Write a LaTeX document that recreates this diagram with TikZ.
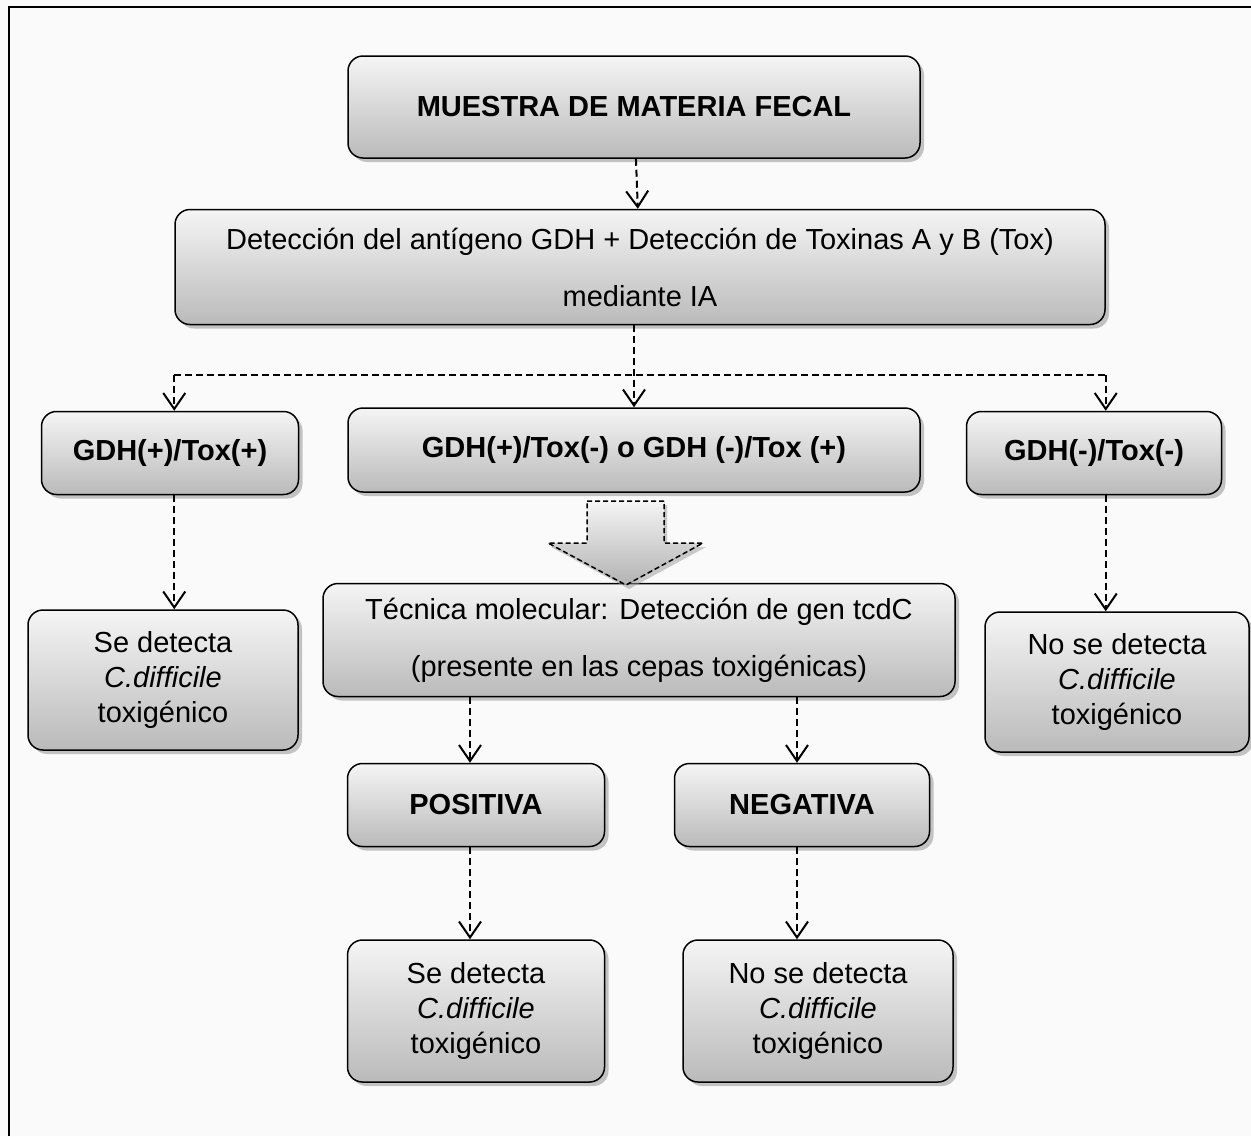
\documentclass[tikz,border=0pt]{standalone}
\usepackage{fontspec}
\setmainfont{Liberation Sans}
\usetikzlibrary{arrows.meta,shapes,shadows}
\tikzstyle{box}=[draw,line width=1.5pt,rounded corners=15pt,top color=black!4,bottom color=black!27,drop shadow={shadow xshift=4pt,shadow yshift=-4pt,fill=black!45},align=center,inner sep=0pt,font=\fontsize{29pt}{35pt}\selectfont]
\tikzstyle{bold box}=[box,font=\fontsize{29pt}{35pt}\selectfont\bfseries]
\tikzstyle{wide box}=[box,font=\fontsize{29pt}{57pt}\selectfont]
\tikzstyle{edge}=[draw,line width=2pt,dash pattern=on 7pt off 4pt,-{Straight Barb[length=16pt,width=22pt]}]
\tikzstyle{line}=[draw,line width=2pt,dash pattern=on 7pt off 4pt]

\begin{document}
\begin{tikzpicture}[x=1pt,y=-1pt]
    \useasboundingbox[fill=black!2] (0,0) rectangle (1251,1136);
    % frame round the chart
    \draw[line width=2.5pt] (9,1136) -- (9,7) -- (1251,7);

    % First we draw the boxes
    \node[bold box,minimum width=572pt,minimum height=102pt] (muestra) at (634,107) {MUESTRA DE MATERIA FECAL};
    \node[wide box,minimum width=930pt,minimum height=115pt] (deteccion) at (640,267) {Detección del antígeno GDH + Detección de Toxinas A y B (Tox)\\mediante IA};
    \node[bold box,minimum width=257pt,minimum height=83pt] (gdhpp) at (170,453) {GDH(+)/Tox(+)};
    \node[bold box,minimum width=572pt,minimum height=84pt] (gdhmix) at (634,450) {GDH(+)/Tox(-) o GDH (-)/Tox (+)};
    \node[bold box,minimum width=255pt,minimum height=83pt] (gdhmm) at (1094,453) {GDH(-)/Tox(-)};
    \node[wide box,minimum width=632pt,minimum height=113pt] (tecnica) at (639,640) {Técnica molecular: Detección de gen tcdC\\(presente en las cepas toxigénicas)};
    \node[box,minimum width=270pt,minimum height=140pt] (posleft) at (163,680) {Se detecta\\\textit{C.difficile}\\toxigénico};
    \node[box,minimum width=264pt,minimum height=140pt] (negright) at (1117,682) {No se detecta\\\textit{C.difficile}\\toxigénico};
    \node[bold box,minimum width=257pt,minimum height=83pt] (positiva) at (476,805) {POSITIVA};
    \node[bold box,minimum width=255pt,minimum height=83pt] (negativa) at (802,805) {NEGATIVA};
    \node[box,minimum width=257pt,minimum height=142pt] (posres) at (476,1011) {Se detecta\\\textit{C.difficile}\\toxigénico};
    \node[box,minimum width=270pt,minimum height=142pt] (negres) at (818,1011) {No se detecta\\\textit{C.difficile}\\toxigénico};

    % big arrow into the molecular step
    \filldraw[line width=1.5pt,dash pattern=on 5pt off 3pt,top color=black!4,bottom color=black!30,drop shadow={shadow xshift=3pt,shadow yshift=-4pt,fill=black!40}]
        (587,501) -- (664,501) -- (664,543) -- (703,543) -- (626,585) -- (548,543) -- (587,543) -- cycle;

    % Connect boxes with dashed arrows
    \path[edge] (muestra) -- (deteccion);
    \coordinate (split) at (0,375);
    \path[line] (deteccion.west |- split) -- (deteccion.east |- split);
    \path[edge] (gdhmix.north |- deteccion.south) -- (gdhmix.north);
    \path[edge] (deteccion.west |- split) -- (deteccion.west |- gdhpp.north);
    \path[edge] (deteccion.east |- split) -- (deteccion.east |- gdhmm.north);
    \path[edge] (deteccion.west |- gdhpp.south) -- (deteccion.west |- posleft.north);
    \path[edge] (deteccion.east |- gdhmm.south) -- (deteccion.east |- negright.north);
    \foreach \x/\source/\dest in {470/tecnica/positiva, 797/tecnica/negativa, 470/positiva/posres, 797/negativa/negres}
        \path[edge] (\source.south -| \x,0) -- (\dest.north -| \x,0);
\end{tikzpicture}
\end{document}
